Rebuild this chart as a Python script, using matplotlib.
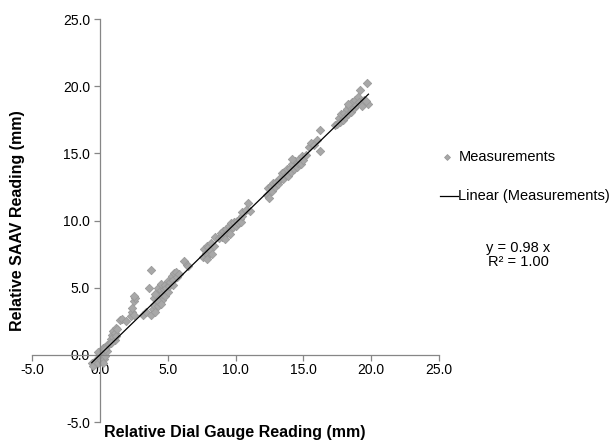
import numpy as np
import matplotlib.pyplot as plt
from matplotlib.lines import Line2D

plt.rcParams['font.family'] = ['Liberation Sans', 'DejaVu Sans']

# relative dial gauge reading (mm) vs relative SAAV reading (mm)
dial = [
    -0.6, -0.5, -0.3, -0.2, -0.1, 0.0, 0.0, 0.1, 0.1, 0.2, 0.2, 0.3, 0.3, 0.4, 0.4, 0.5, 0.5, 0.2, -0.1, 0.35,
    0.7, 0.8, 0.9, 0.9, 1.0, 1.0, 1.1, 1.1, 1.2, 1.2, 1.3, 0.8,
    1.5, 1.6, 1.9,
    2.3, 2.4, 2.4, 2.5, 2.5, 2.6, 2.5,
    3.2, 3.4, 3.75, 3.6,
    3.8, 3.9, 4.0, 4.0, 4.1, 4.2, 4.2, 4.3, 4.3, 4.4, 4.4, 4.5, 4.5, 4.6, 4.6, 4.7, 4.8, 4.8, 4.9, 5.0, 5.0, 5.1,
    4.1, 4.3, 4.5,
    5.2, 5.3, 5.4, 5.5, 5.6, 5.7, 5.8, 5.4,
    6.2, 6.4, 6.5,
    7.6, 7.7, 7.8, 7.9, 8.0, 8.0, 8.1, 8.2, 8.3, 8.4, 7.9, 8.5,
    8.8, 8.9, 9.0, 9.1, 9.2, 9.3, 9.4, 9.5, 9.6, 9.7, 9.8, 9.9, 10.0, 10.1, 10.2, 10.3, 10.4, 10.5, 9.2, 9.6,
    10.9, 10.5, 10.8, 11.1,
    12.3, 12.4, 12.5, 12.6, 12.7, 12.8, 12.9, 13.0, 13.1, 13.2,
    13.3, 13.4, 13.5, 13.6, 13.7, 13.8, 13.9, 14.0, 14.1, 14.2, 14.3, 14.4, 14.5, 14.6, 14.7, 14.8, 14.9, 15.0,
    15.2, 14.2,
    15.4, 15.6, 15.8, 16.0, 16.25, 16.25, 17.35,
    17.5, 17.6, 17.7, 17.8, 17.9, 18.0, 18.1, 18.2, 18.3, 18.4, 18.5, 18.6, 18.7, 18.8, 18.9, 19.0, 19.1, 19.3,
    19.5, 19.8, 19.7, 19.2, 19.6, 18.3,
]
saav = [
    -0.6, -0.8, -0.5, -0.3, -0.6, -0.2, 0.1, -0.4, 0.3, 0.0, 0.5, -0.3, 0.2, 0.6, -0.1, 0.3, 0.7, -0.6, 0.2, 0.4,
    0.8, 1.2, 1.0, 1.5, 1.3, 1.8, 1.1, 1.6, 1.4, 2.0, 1.9, 0.9,
    2.6, 2.7, 2.5,
    2.9, 3.2, 3.5, 3.0, 4.0, 4.2, 4.4,
    3.0, 3.2, 6.3, 5.0,
    3.0, 3.4, 3.7, 4.2, 3.2, 4.0, 4.6, 3.6, 5.0, 4.3, 3.9, 4.8, 5.3, 4.1, 4.5, 4.9, 5.2, 4.4, 5.0, 5.5, 4.7, 5.1,
    4.5, 4.0, 3.8,
    5.4, 5.9, 5.6, 6.1, 6.2, 5.8, 6.0, 5.2,
    7.0, 6.7, 6.6,
    7.3, 7.9, 7.6, 8.1, 7.4, 8.0, 7.8, 8.3, 7.5, 8.1, 7.1, 8.8,
    8.7, 9.1, 8.8, 9.2, 9.0, 9.4, 9.1, 9.6, 9.3, 9.8, 9.5, 9.9, 9.6, 10.0, 9.8, 10.1, 9.9, 10.3, 8.6, 9.0,
    11.3, 10.6, 10.8, 10.7,
    11.9, 12.4, 11.7, 12.6, 12.2, 12.8, 12.5, 12.9, 12.7, 13.0,
    13.2, 13.5, 13.1, 13.6, 13.4, 13.8, 13.3, 13.9, 13.6, 14.2, 13.8, 14.4, 14.0, 14.3, 14.6, 14.2, 14.8, 14.5,
    14.9, 14.6,
    15.5, 15.8, 15.6, 16.0, 16.7, 15.2, 17.1,
    17.2, 17.6, 17.3, 17.9, 17.5, 18.0, 17.7, 18.3, 17.9, 18.5, 18.1, 18.8, 18.4, 19.0, 18.6, 19.2, 18.8, 18.5,
    19.0, 18.7, 20.2, 19.7, 18.9, 18.7,
]
slope = 0.98
r2 = 1.00

ticks = [-5.0, 0.0, 5.0, 10.0, 15.0, 20.0, 25.0]
gray = '#868686'

fig = plt.figure(figsize=(6.1, 4.41), dpi=100)
ax = fig.add_axes([32 / 610, 1 - 422 / 441, (439 - 32) / 610, (422 - 19) / 441])

ax.scatter(dial, saav, marker='D', s=18, facecolor='#A8A8A8', edgecolor='#9A9A9A',
           linewidths=0.6, zorder=2)
xs = np.array([min(dial), max(dial)])
ax.plot(xs, slope * xs, color='black', lw=0.9, zorder=3)

ax.set_xlim(-5, 25)
ax.set_ylim(-5, 25)
ax.set_xticks(ticks)
ax.set_yticks(ticks)
ax.set_xticklabels([f'{t:.1f}' for t in ticks])
ax.set_yticklabels([f'{t:.1f}' for t in ticks])

for side in ['top', 'right']:
    ax.spines[side].set_visible(False)
ax.spines['left'].set_position(('data', 0))
ax.spines['bottom'].set_position(('data', 0))
for side in ['left', 'bottom']:
    ax.spines[side].set_color(gray)
    ax.spines[side].set_linewidth(0.9)
ax.tick_params(colors=gray, labelcolor='black', labelsize=10, length=4, width=0.9,
               direction='out')
ax.tick_params(axis='y', pad=3)
ax.tick_params(axis='x', pad=2)

fig.text(235 / 610, 1 - 433 / 441, 'Relative Dial Gauge Reading (mm)', ha='center',
         va='center', fontsize=11.5, fontweight='bold')
fig.text(18 / 610, 1 - 221 / 441, 'Relative SAAV Reading (mm)', ha='center', va='center',
         rotation=90, fontsize=11.5, fontweight='bold')

# legend drawn by hand to match the layout
fig.add_artist(Line2D([447 / 610], [1 - 157 / 441], marker='D', markersize=3,
                      markerfacecolor='#A8A8A8', markeredgecolor='#9A9A9A',
                      markeredgewidth=0.6, linestyle='none'))
fig.text(459 / 610, 1 - 157 / 441, 'Measurements', va='center', fontsize=10.5)
fig.add_artist(Line2D([440 / 610, 458 / 610], [1 - 196 / 441, 1 - 196 / 441],
                      color='black', lw=0.9))
fig.text(458 / 610, 1 - 196 / 441, 'Linear (Measurements)', va='center', fontsize=10.5)
fig.text(518 / 610, 1 - 255 / 441, f'y = {slope:.2f} x\nR² = {r2:.2f}', ha='center',
         va='center', fontsize=10.5, linespacing=1.0)

fig.savefig('out.png', dpi=100)
